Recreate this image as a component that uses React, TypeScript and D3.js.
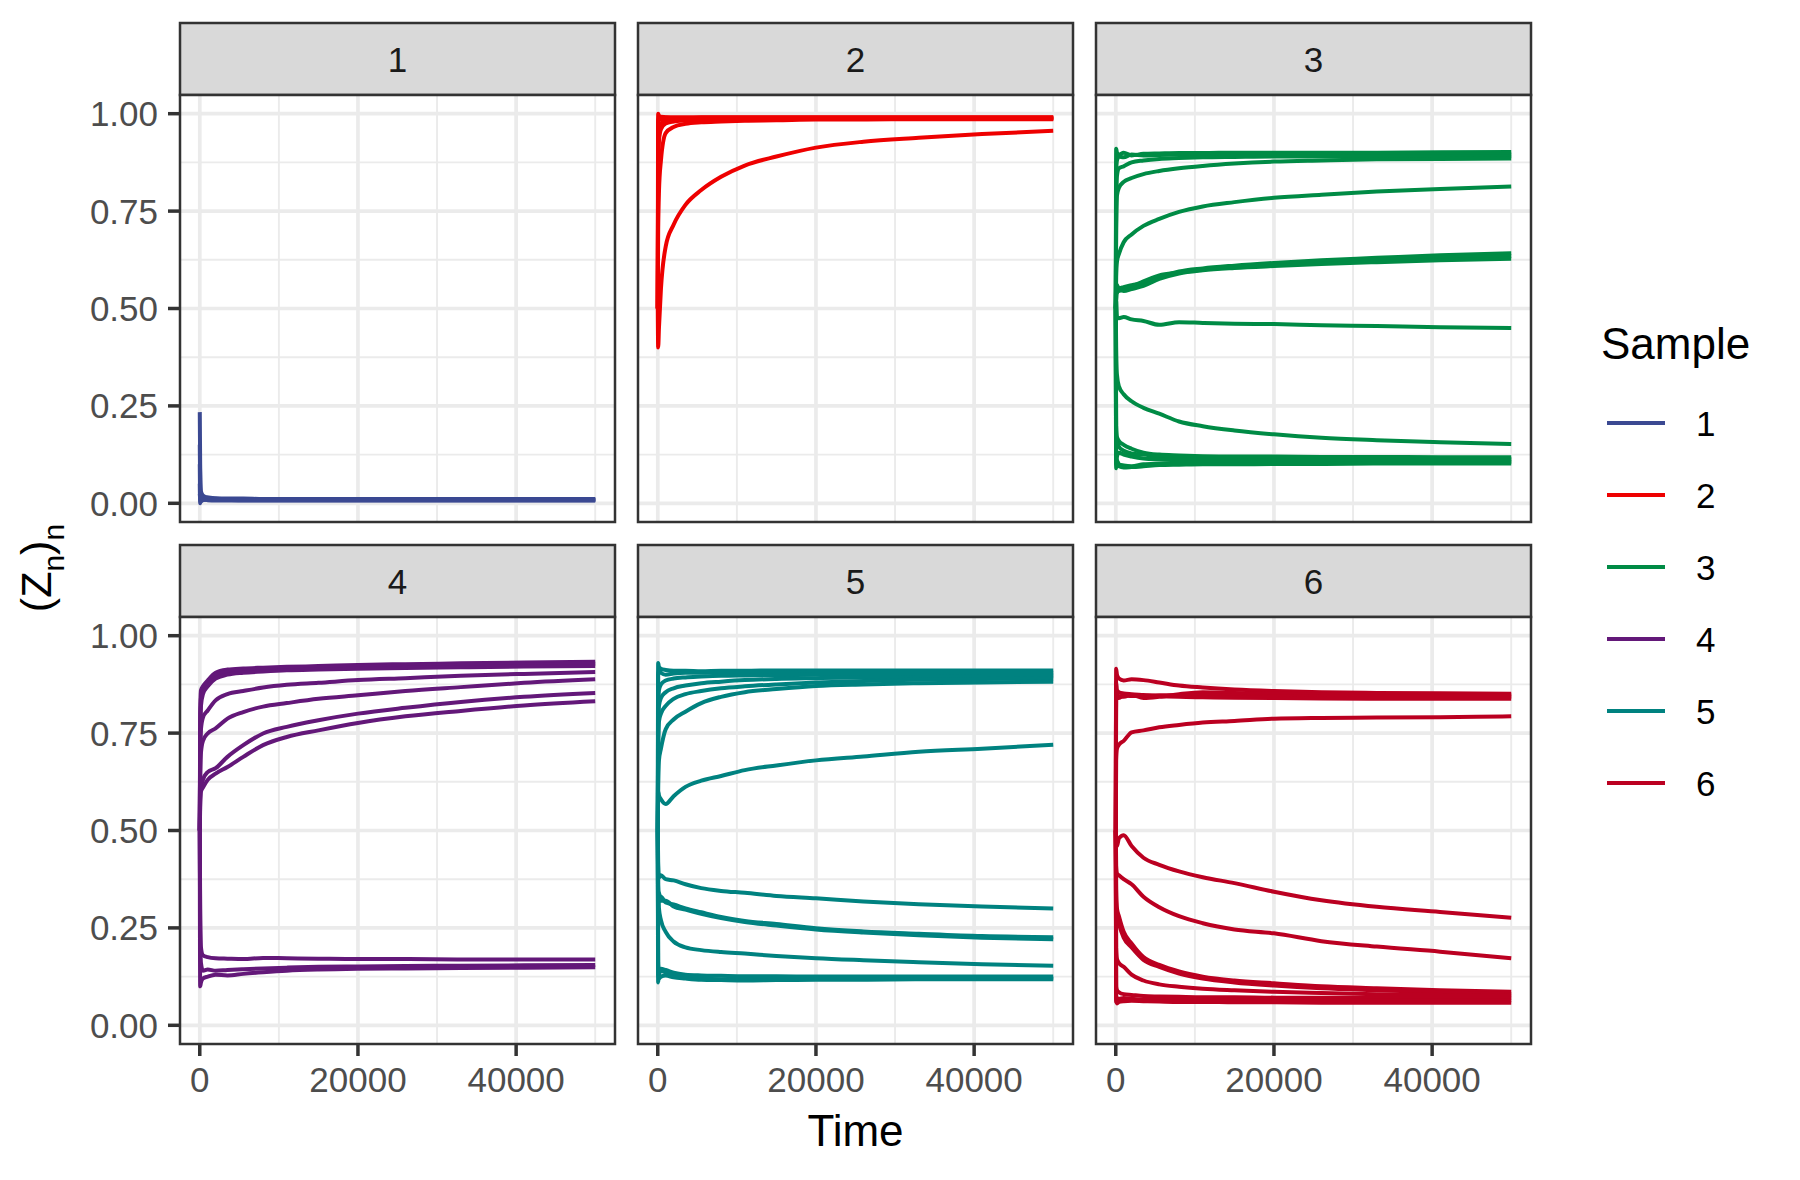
import React from 'react';
import * as d3 from 'd3';

// Time grid shared by all trajectories
const times = [0, 50, 150, 400, 1000, 2000, 3500, 5500, 8000, 11000, 15000, 20000, 26000, 33000, 41000, 50000];

// Sample 1 (blue)
const sample1 = [
  [0.234, 0.1, 0.03, 0.02, 0.015, 0.013, 0.012, 0.012, 0.011, 0.011, 0.011, 0.011, 0.011, 0.011, 0.011, 0.011],
  [0.15, 0.05, 0.02, 0.012, 0.014, 0.012, 0.011, 0.01, 0.01, 0.01, 0.01, 0.01, 0.01, 0.01, 0.01, 0.01],
  [0.1, 0.02, 0.005, 0.008, 0.01, 0.009, 0.009, 0.009, 0.009, 0.009, 0.009, 0.009, 0.009, 0.009, 0.009, 0.009],
  [0.05, 0.0, 0.01, 0.015, 0.012, 0.01, 0.009, 0.008, 0.008, 0.008, 0.008, 0.008, 0.008, 0.008, 0.008, 0.008],
  [0.02, 0.03, 0.02, 0.01, 0.008, 0.007, 0.007, 0.007, 0.007, 0.007, 0.007, 0.007, 0.007, 0.007, 0.007, 0.007],
];

// Sample 2 (red)
const sample2 = [
  [0.5, 0.4, 0.45, 0.55, 0.659, 0.715, 0.766, 0.804, 0.838, 0.867, 0.89, 0.913, 0.928, 0.938, 0.948, 0.956],
  [0.5, 0.7, 0.8, 0.88, 0.95, 0.966, 0.974, 0.978, 0.98, 0.982, 0.983, 0.985, 0.985, 0.986, 0.986, 0.986],
  [0.5, 1.0, 0.995, 0.99, 0.99, 0.99, 0.99, 0.99, 0.99, 0.99, 0.99, 0.99, 0.99, 0.99, 0.99, 0.99],
  [0.5, 0.95, 0.99, 0.985, 0.986, 0.988, 0.988, 0.989, 0.989, 0.989, 0.989, 0.989, 0.989, 0.989, 0.989, 0.989],
  [0.5, 0.9, 0.96, 0.975, 0.98, 0.983, 0.985, 0.986, 0.987, 0.987, 0.988, 0.988, 0.988, 0.988, 0.988, 0.988],
  [0.5, 0.98, 0.99, 0.992, 0.991, 0.99, 0.99, 0.991, 0.991, 0.991, 0.991, 0.991, 0.991, 0.991, 0.991, 0.991],
  [0.5, 0.85, 0.93, 0.96, 0.975, 0.98, 0.983, 0.985, 0.986, 0.987, 0.987, 0.987, 0.987, 0.987, 0.987, 0.987],
];

// Sample 3 (green)
const sample3 = [
  [0.5, 0.91, 0.9, 0.895, 0.9, 0.893, 0.897, 0.898, 0.899, 0.899, 0.9, 0.9, 0.9, 0.9, 0.901, 0.902],
  [0.5, 0.85, 0.88, 0.89, 0.888, 0.895, 0.893, 0.894, 0.895, 0.896, 0.895, 0.896, 0.896, 0.895, 0.895, 0.895],
  [0.5, 0.75, 0.84, 0.86, 0.865, 0.875, 0.88, 0.884, 0.886, 0.888, 0.889, 0.89, 0.89, 0.891, 0.891, 0.891],
  [0.5, 0.7, 0.79, 0.81, 0.825, 0.835, 0.845, 0.853, 0.86, 0.866, 0.872, 0.877, 0.88, 0.883, 0.884, 0.885],
  [0.5, 0.58, 0.62, 0.64, 0.67, 0.69, 0.712, 0.73, 0.748, 0.762, 0.773, 0.784, 0.792, 0.8, 0.807, 0.813],
  [0.5, 0.56, 0.54, 0.55, 0.555, 0.56, 0.565, 0.58, 0.595, 0.603, 0.61, 0.617, 0.624, 0.63, 0.637, 0.642],
  [0.5, 0.53, 0.55, 0.545, 0.55, 0.556, 0.57, 0.585, 0.592, 0.6, 0.607, 0.613, 0.62, 0.626, 0.631, 0.635],
  [0.5, 0.52, 0.56, 0.55, 0.545, 0.55, 0.558, 0.576, 0.59, 0.598, 0.604, 0.609, 0.614, 0.619, 0.624, 0.628],
  [0.5, 0.52, 0.48, 0.475, 0.478, 0.472, 0.468, 0.458, 0.465, 0.463, 0.461, 0.46, 0.457, 0.455, 0.452, 0.45],
  [0.5, 0.4, 0.33, 0.3, 0.28, 0.262, 0.245, 0.23, 0.21, 0.198, 0.187, 0.177, 0.168, 0.162, 0.157, 0.152],
  [0.5, 0.2, 0.17, 0.16, 0.15, 0.14, 0.13, 0.125, 0.123, 0.121, 0.12, 0.12, 0.119, 0.119, 0.118, 0.118],
  [0.5, 0.15, 0.16, 0.145, 0.135, 0.128, 0.125, 0.12, 0.118, 0.117, 0.116, 0.115, 0.115, 0.114, 0.114, 0.114],
  [0.5, 0.1, 0.12, 0.13, 0.125, 0.12, 0.115, 0.113, 0.112, 0.111, 0.111, 0.11, 0.11, 0.11, 0.11, 0.11],
  [0.5, 0.09, 0.11, 0.1, 0.097, 0.095, 0.1, 0.102, 0.104, 0.105, 0.105, 0.106, 0.106, 0.106, 0.106, 0.106],
  [0.5, 0.12, 0.1, 0.095, 0.092, 0.093, 0.095, 0.098, 0.099, 0.1, 0.1, 0.101, 0.101, 0.102, 0.102, 0.102],
];

// Sample 4 (purple)
const sample4 = [
  [0.5, 0.8, 0.86, 0.87, 0.885, 0.905, 0.913, 0.916, 0.918, 0.92, 0.922, 0.925, 0.927, 0.929, 0.931, 0.933],
  [0.5, 0.75, 0.84, 0.86, 0.875, 0.898, 0.908, 0.912, 0.915, 0.917, 0.919, 0.921, 0.923, 0.925, 0.927, 0.928],
  [0.5, 0.7, 0.82, 0.85, 0.87, 0.89, 0.9, 0.905, 0.908, 0.911, 0.913, 0.915, 0.917, 0.919, 0.921, 0.922],
  [0.5, 0.7, 0.76, 0.79, 0.808, 0.834, 0.85, 0.858, 0.867, 0.874, 0.879, 0.886, 0.891, 0.897, 0.902, 0.907],
  [0.5, 0.62, 0.7, 0.73, 0.749, 0.762, 0.787, 0.804, 0.818, 0.827, 0.838, 0.847, 0.858, 0.868, 0.879, 0.888],
  [0.5, 0.58, 0.61, 0.63, 0.65, 0.66, 0.689, 0.719, 0.749, 0.766, 0.783, 0.8, 0.815, 0.83, 0.843, 0.853],
  [0.5, 0.56, 0.6, 0.61, 0.63, 0.646, 0.663, 0.689, 0.719, 0.74, 0.757, 0.776, 0.793, 0.807, 0.821, 0.832],
  [0.5, 0.3, 0.2, 0.18, 0.175, 0.172, 0.171, 0.17, 0.173, 0.172, 0.171, 0.17, 0.17, 0.169, 0.169, 0.169],
  [0.5, 0.25, 0.16, 0.14, 0.143, 0.14, 0.142, 0.144, 0.146, 0.148, 0.15, 0.151, 0.152, 0.153, 0.154, 0.155],
  [0.5, 0.1, 0.11, 0.12, 0.125, 0.13, 0.128, 0.132, 0.136, 0.14, 0.143, 0.145, 0.146, 0.147, 0.148, 0.149],
];

// Sample 5 (teal)
const sample5 = [
  [0.5, 0.93, 0.92, 0.915, 0.912, 0.91, 0.91, 0.909, 0.91, 0.91, 0.911, 0.911, 0.911, 0.911, 0.911, 0.911],
  [0.5, 0.9, 0.91, 0.905, 0.9, 0.903, 0.905, 0.905, 0.906, 0.906, 0.906, 0.905, 0.905, 0.905, 0.905, 0.905],
  [0.5, 0.8, 0.86, 0.875, 0.885, 0.89, 0.893, 0.895, 0.897, 0.898, 0.899, 0.9, 0.9, 0.9, 0.9, 0.9],
  [0.5, 0.75, 0.82, 0.84, 0.855, 0.865, 0.872, 0.878, 0.882, 0.886, 0.889, 0.891, 0.893, 0.894, 0.895, 0.895],
  [0.5, 0.7, 0.78, 0.8, 0.82, 0.838, 0.85, 0.858, 0.865, 0.87, 0.875, 0.88, 0.884, 0.887, 0.889, 0.89],
  [0.5, 0.6, 0.68, 0.71, 0.76, 0.785, 0.805, 0.827, 0.843, 0.855, 0.863, 0.871, 0.875, 0.878, 0.88, 0.882],
  [0.5, 0.6, 0.59, 0.58, 0.568, 0.588, 0.612, 0.628, 0.64, 0.655, 0.667, 0.68, 0.69, 0.702, 0.71, 0.72],
  [0.5, 0.42, 0.38, 0.385, 0.375, 0.372, 0.362, 0.352, 0.345, 0.34, 0.332, 0.326, 0.318, 0.311, 0.305, 0.3],
  [0.5, 0.36, 0.33, 0.33, 0.315, 0.31, 0.3, 0.29, 0.278, 0.268, 0.26, 0.249, 0.241, 0.235, 0.229, 0.226],
  [0.5, 0.3, 0.34, 0.32, 0.32, 0.305, 0.297, 0.286, 0.275, 0.265, 0.256, 0.246, 0.238, 0.231, 0.225, 0.221],
  [0.5, 0.35, 0.3, 0.27, 0.24, 0.215, 0.2, 0.193, 0.188, 0.184, 0.178, 0.172, 0.167, 0.162, 0.157, 0.153],
  [0.5, 0.16, 0.14, 0.145, 0.142, 0.135, 0.13, 0.128, 0.127, 0.126, 0.126, 0.125, 0.125, 0.125, 0.125, 0.125],
  [0.5, 0.11, 0.13, 0.14, 0.135, 0.13, 0.125, 0.12, 0.118, 0.119, 0.12, 0.12, 0.121, 0.121, 0.121, 0.121],
  [0.5, 0.13, 0.12, 0.125, 0.128, 0.123, 0.12, 0.117, 0.116, 0.115, 0.116, 0.117, 0.117, 0.118, 0.118, 0.118],
];

// Sample 6 (crimson)
const sample6 = [
  [0.5, 0.915, 0.9, 0.89, 0.885, 0.888, 0.886, 0.88, 0.872, 0.867, 0.862, 0.858, 0.855, 0.853, 0.852, 0.851],
  [0.5, 0.86, 0.85, 0.845, 0.843, 0.848, 0.84, 0.843, 0.85, 0.855, 0.853, 0.851, 0.849, 0.848, 0.847, 0.847],
  [0.5, 0.84, 0.845, 0.84, 0.848, 0.845, 0.846, 0.847, 0.847, 0.846, 0.845, 0.844, 0.843, 0.843, 0.843, 0.843],
  [0.5, 0.88, 0.86, 0.855, 0.852, 0.85, 0.848, 0.845, 0.843, 0.842, 0.841, 0.84, 0.839, 0.838, 0.838, 0.838],
  [0.5, 0.68, 0.71, 0.72, 0.73, 0.752, 0.757, 0.765, 0.771, 0.777, 0.781, 0.787, 0.789, 0.79, 0.791, 0.793],
  [0.5, 0.47, 0.46, 0.48, 0.488, 0.46, 0.43, 0.412, 0.395, 0.38, 0.365, 0.343, 0.321, 0.304, 0.291, 0.276],
  [0.5, 0.41, 0.39, 0.385, 0.375, 0.362, 0.33, 0.303, 0.28, 0.262, 0.246, 0.236, 0.216, 0.202, 0.189, 0.172],
  [0.5, 0.35, 0.3, 0.28, 0.24, 0.21, 0.175, 0.155, 0.138, 0.125, 0.115, 0.108, 0.1, 0.095, 0.09, 0.086],
  [0.5, 0.32, 0.28, 0.26, 0.225, 0.2, 0.168, 0.15, 0.133, 0.12, 0.11, 0.102, 0.095, 0.09, 0.085, 0.08],
  [0.5, 0.2, 0.17, 0.16, 0.15, 0.13, 0.115, 0.105, 0.099, 0.094, 0.09, 0.086, 0.083, 0.08, 0.078, 0.075],
  [0.5, 0.1, 0.09, 0.085, 0.08, 0.078, 0.075, 0.074, 0.073, 0.072, 0.072, 0.071, 0.071, 0.07, 0.07, 0.07],
  [0.5, 0.06, 0.07, 0.068, 0.07, 0.068, 0.066, 0.066, 0.065, 0.065, 0.064, 0.064, 0.064, 0.064, 0.064, 0.064],
  [0.5, 0.07, 0.056, 0.06, 0.062, 0.063, 0.062, 0.061, 0.06, 0.06, 0.059, 0.059, 0.058, 0.058, 0.058, 0.058],
];

const samples = [sample1, sample2, sample3, sample4, sample5, sample6];
const sampleLabels = ['1', '2', '3', '4', '5', '6'];
const sampleColors = ['#3B4992', '#EE0000', '#008B45', '#631879', '#008280', '#BB0021'];

const yTicks = [0, 0.25, 0.5, 0.75, 1];
const yMinor = [0.125, 0.375, 0.625, 0.875];
const xTicks = [0, 20000, 40000];
const xMinor = [10000, 30000, 50000];

export default function App() {
  const W = 1800, H = 1180;
  const left = 180, top = 23, panelW = 435, panelH = 427, stripH = 72, gap = 23;
  const font = "'Liberation Sans', Arial, Helvetica, sans-serif";
  const x = d3.scaleLinear().domain([-2500, 52500]).range([0, panelW]);
  const y = d3.scaleLinear().domain([-0.048, 1.048]).range([panelH, 0]);
  const line = d3.line<number>()
    .x((_, i) => x(times[i]))
    .y((d) => y(d))
    .curve(d3.curveMonotoneX);

  const panels = samples.map((traj, i) => {
    const col = i % 3;
    const row = Math.floor(i / 3);
    const px = left + col * (panelW + gap);
    const sy = top + row * (stripH + panelH + gap);
    const py = sy + stripH;
    const clipId = `clip${i}`;
    return (
      <g key={i}>
        <defs>
          <clipPath id={clipId}>
            <rect x={0} y={0} width={panelW} height={panelH} />
          </clipPath>
        </defs>
        {/* strip */}
        <rect x={px} y={sy} width={panelW} height={stripH} fill="#D9D9D9" stroke="#333333" strokeWidth={2.5} />
        <text x={px + panelW / 2} y={sy + stripH / 2 + 12.5} textAnchor="middle" fontSize={35} fill="#1A1A1A" fontFamily={font}>
          {sampleLabels[i]}
        </text>
        <g transform={`translate(${px},${py})`}>
          <rect x={0} y={0} width={panelW} height={panelH} fill="#FFFFFF" />
          <g clipPath={`url(#${clipId})`}>
            {yMinor.map((v) => (
              <line key={'ym' + v} x1={0} x2={panelW} y1={y(v)} y2={y(v)} stroke="#EBEBEB" strokeWidth={1.9} />
            ))}
            {xMinor.map((v) => (
              <line key={'xm' + v} y1={0} y2={panelH} x1={x(v)} x2={x(v)} stroke="#EBEBEB" strokeWidth={1.9} />
            ))}
            {yTicks.map((v) => (
              <line key={'yM' + v} x1={0} x2={panelW} y1={y(v)} y2={y(v)} stroke="#EBEBEB" strokeWidth={3.7} />
            ))}
            {xTicks.map((v) => (
              <line key={'xM' + v} y1={0} y2={panelH} x1={x(v)} x2={x(v)} stroke="#EBEBEB" strokeWidth={3.7} />
            ))}
            {traj.map((vals, j) => (
              <path key={j} d={line(vals) || ''} fill="none" stroke={sampleColors[i]} strokeWidth={4}
                strokeLinejoin="round" strokeLinecap="butt" />
            ))}
          </g>
          <rect x={0} y={0} width={panelW} height={panelH} fill="none" stroke="#333333" strokeWidth={2.5} />
          {col === 0 && yTicks.map((v) => (
            <g key={'yt' + v}>
              <line x1={-12} x2={0} y1={y(v)} y2={y(v)} stroke="#333333" strokeWidth={3.5} />
              <text x={-22} y={y(v) + 12.5} textAnchor="end" fontSize={35} fill="#4D4D4D" fontFamily={font}>
                {v.toFixed(2)}
              </text>
            </g>
          ))}
          {row === 1 && xTicks.map((v) => (
            <g key={'xt' + v}>
              <line x1={x(v)} x2={x(v)} y1={panelH} y2={panelH + 12} stroke="#333333" strokeWidth={3.5} />
              <text x={x(v)} y={panelH + 48} textAnchor="middle" fontSize={35} fill="#4D4D4D" fontFamily={font}>
                {String(v)}
              </text>
            </g>
          ))}
        </g>
      </g>
    );
  });

  const plotRight = left + 3 * panelW + 2 * gap;
  const legendX = 1601;
  const legendTitleY = 359;
  const keyY0 = 423;
  const keyStep = 72;

  return (
    <svg width={W} height={H} viewBox={`0 0 ${W} ${H}`} style={{ position: 'absolute', left: 0, top: 0, display: 'block', background: '#FFFFFF' }}>
      <rect x={0} y={0} width={W} height={H} fill="#FFFFFF" />
      {panels}
      {/* x axis title */}
      <text x={(left + plotRight) / 2} y={1146} textAnchor="middle" fontSize={44} fill="#000000" fontFamily={font}>Time</text>
      {/* y axis title */}
      <text transform="translate(51,568) rotate(-90)" textAnchor="middle" fontSize={43} fill="#000000" fontFamily={font}>
        <tspan>(Z</tspan>
        <tspan dy={13} fontSize={30}>n</tspan>
        <tspan dy={-13}>)</tspan>
        <tspan dy={13} fontSize={30}>n</tspan>
      </text>
      {/* legend */}
      <text x={legendX} y={legendTitleY} fontSize={44} fill="#000000" fontFamily={font}>Sample</text>
      {sampleLabels.map((lab, i) => (
        <g key={'lg' + lab}>
          <line x1={legendX + 6} x2={legendX + 64} y1={keyY0 + i * keyStep} y2={keyY0 + i * keyStep}
            stroke={sampleColors[i]} strokeWidth={4} />
          <text x={legendX + 95} y={keyY0 + i * keyStep + 12.5} fontSize={35} fill="#000000" fontFamily={font}>{lab}</text>
        </g>
      ))}
    </svg>
  );
}
